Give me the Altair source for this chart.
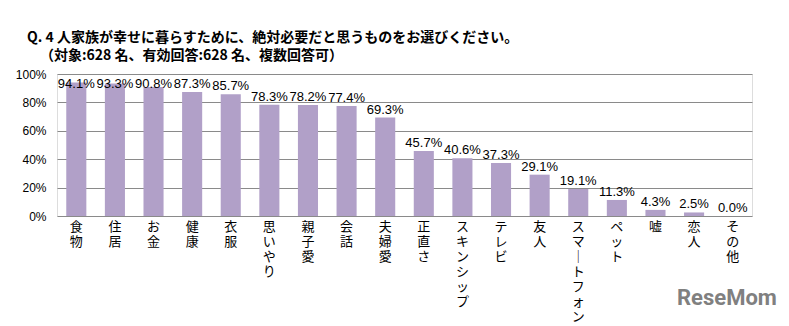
import altair as alt
import pandas as pd

categories = ["食物", "住居", "お金", "健康", "衣服", "思いやり", "親子愛", "会話", "夫婦愛",
              "正直さ", "スキンシップ", "テレビ", "友人", "スマートフォン", "ペット", "嘘", "恋人", "その他"]
values = [94.1, 93.3, 90.8, 87.3, 85.7, 78.3, 78.2, 77.4, 69.3,
          45.7, 40.6, 37.3, 29.1, 19.1, 11.3, 4.3, 2.5, 0.0]
y_ticks = [0, 20, 40, 60, 80, 100]
title_line1 = "Q. 4 人家族が幸せに暮らすために、絶対必要だと思うものをお選びください。"
title_line2 = "（対象:628 名、有効回答:628 名、複数回答可）"
logo_text = "ReseMom"

df = pd.DataFrame({"cat": categories, "v": values})

JP = "Noto Sans CJK JP"
NUM = "Liberation Sans"

x_axis = alt.Axis(labelAngle=0, ticks=False, domain=False,
                  labelExpr="split(replace(datum.label, 'ー', '｜'), '')",
                  labelFont=JP, labelFontSize=13, labelLineHeight=15,
                  labelColor="#000", labelBaseline="top", labelPadding=4,
                  labelFontWeight="normal", labelOverlap=False)
x_scale = alt.Scale(paddingInner=0.48, paddingOuter=0.24)
y_axis = alt.Axis(values=y_ticks, labelExpr="datum.value + '%'", ticks=False,
                  domain=False, grid=True, gridColor="#8a8a8a", gridWidth=1,
                  labelFont=NUM, labelFontSize=12, labelColor="#000",
                  labelPadding=11, labelOverlap=False, labelBound=False,
                  labelFlush=False)
y_scale = alt.Scale(domain=[0, 100], nice=False)

bars = alt.Chart(df).mark_bar(color="#B1A0C8").encode(
    x=alt.X("cat:N", sort=None, title=None, scale=x_scale, axis=x_axis),
    y=alt.Y("v:Q", scale=y_scale, title=None, axis=y_axis),
)

labels = alt.Chart(df).transform_calculate(
    lp="min(datum.v, 87)",
    txt="format(datum.v, '.1f') + '%'"
).mark_text(font=NUM, fontSize=13, baseline="bottom", dy=-1, color="#000").encode(
    x=alt.X("cat:N", sort=None, title=None, scale=x_scale, axis=x_axis),
    y=alt.Y("lp:Q", scale=y_scale, title=None, axis=y_axis),
    text="txt:N",
)

subtitle = alt.Chart(pd.DataFrame({"t": [title_line2]})).mark_text(
    font=JP, fontSize=14, fontWeight="bold", color="#000", align="left", baseline="middle"
).encode(x=alt.value(-17), y=alt.value(-18), text="t:N")

logo = alt.Chart(pd.DataFrame({"t": [logo_text]})).mark_text(
    font="Roboto", fontSize=22, fontWeight="bold", color="#808080", align="left", baseline="middle"
).encode(x=alt.value(620), y=alt.value(224), text="t:N")

chart = alt.layer(bars, labels, subtitle, logo).properties(
    width=695, height=142,
    title=alt.Title(title_line1, anchor="start", frame="group", dx=-30, offset=4, font=JP,
                    fontSize=14, fontWeight="bold", color="#000"),
    autosize=alt.AutoSizeParams(type="none"),
    padding={"left": 57, "top": 74, "right": 37, "bottom": 110},
).configure_view(stroke="#000", strokeWidth=1.5).configure(background="white")

chart.save("out.html", embed_options={"renderer": "svg", "actions": False})
